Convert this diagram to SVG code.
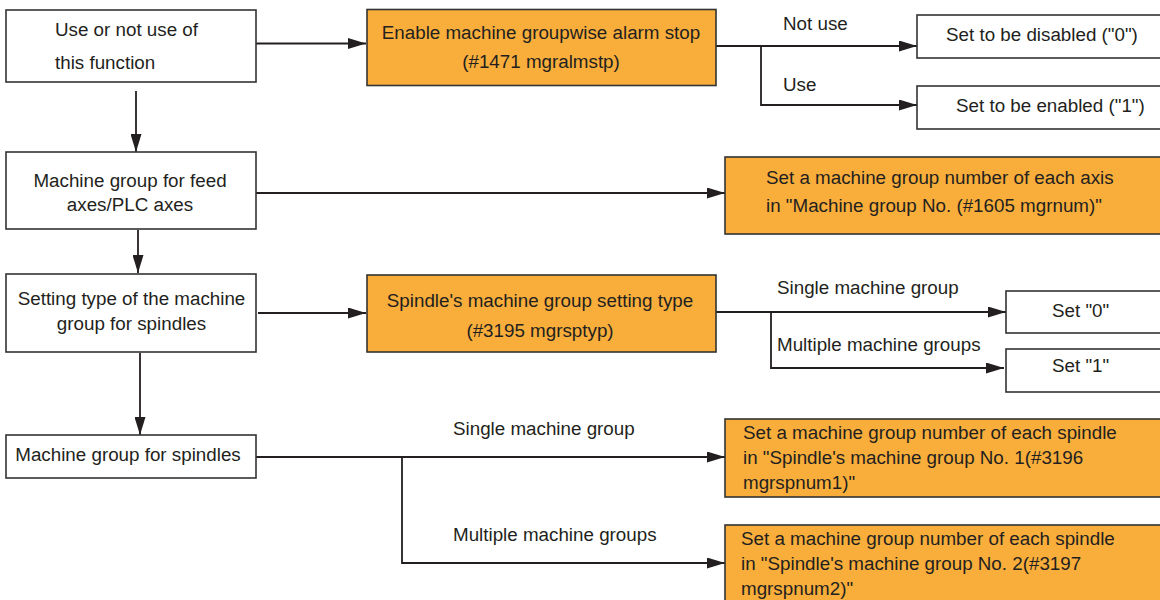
<svg xmlns="http://www.w3.org/2000/svg" width="1160" height="600" viewBox="0 0 1160 600">
<style>
.box{fill:#ffffff;stroke:#333333;stroke-width:1.6}
.obox{fill:#F9AE3B;stroke:#333333;stroke-width:1.6}
.t{font-family:"Liberation Sans",Arial,sans-serif;font-size:18.8px;fill:#231f20}
.c{text-anchor:middle}
.ln{fill:none;stroke:#231f20;stroke-width:1.8}
</style>
<defs>
<marker id="ah" markerUnits="userSpaceOnUse" markerWidth="18" markerHeight="11" refX="18" refY="5.5" orient="auto">
<path d="M0,0 L18,5.5 L0,11 z" fill="#231f20"/>
</marker>
</defs>
<rect width="1160" height="600" fill="#ffffff"/>

<g id="connectors">
<path class="ln" d="M256,43.5 H366" marker-end="url(#ah)"/>
<path class="ln" d="M716,46 H917" marker-end="url(#ah)"/>
<path class="ln" d="M761,46 V105 H917" marker-end="url(#ah)"/>
<path class="ln" d="M136,91 V152" marker-end="url(#ah)"/>
<path class="ln" d="M256,193 H725" marker-end="url(#ah)"/>
<path class="ln" d="M138,230 V273" marker-end="url(#ah)"/>
<path class="ln" d="M258,313 H366" marker-end="url(#ah)"/>
<path class="ln" d="M716,312 H1006" marker-end="url(#ah)"/>
<path class="ln" d="M771,312 V368 H1004" marker-end="url(#ah)"/>
<path class="ln" d="M140,353 V435" marker-end="url(#ah)"/>
<path class="ln" d="M256,457 H725" marker-end="url(#ah)"/>
<path class="ln" d="M402,457 V563 H725" marker-end="url(#ah)"/>
<text class="t" x="783" y="30">Not use</text>
<text class="t" x="783" y="91">Use</text>
<text class="t" x="777" y="294">Single machine group</text>
<text class="t" x="777" y="351">Multiple machine groups</text>
<text class="t" x="453" y="435">Single machine group</text>
<text class="t" x="453" y="541">Multiple machine groups</text>
</g>

<g id="n-use">
<rect class="box" x="6" y="10" width="250" height="72"/>
<text class="t" x="55" y="36">Use or not use of</text>
<text class="t" x="55" y="69">this function</text>
</g>

<g id="n-alarmstop">
<rect class="obox" x="367" y="9.5" width="349" height="76"/>
<text class="t c" x="541" y="39">Enable machine groupwise alarm stop</text>
<text class="t c" x="541" y="68">(#1471 mgralmstp)</text>
</g>

<g id="n-disabled">
<rect class="box" x="917" y="15" width="250" height="43"/>
<text class="t" x="946" y="41">Set to be disabled ("0")</text>
</g>

<g id="n-enabled">
<rect class="box" x="917" y="86" width="250" height="43"/>
<text class="t" x="956" y="112">Set to be enabled ("1")</text>
</g>

<g id="n-feed">
<rect class="box" x="6" y="152" width="250" height="77"/>
<text class="t c" x="130" y="187">Machine group for feed</text>
<text class="t c" x="130" y="211">axes/PLC axes</text>
</g>

<g id="n-mgrnum">
<rect class="obox" x="725" y="157" width="445" height="77"/>
<text class="t" x="766" y="184">Set a machine group number of each axis</text>
<text class="t" x="766" y="212">in "Machine group No. (#1605 mgrnum)"</text>
</g>

<g id="n-settype">
<rect class="box" x="6" y="274" width="250" height="78"/>
<text class="t c" x="131.5" y="305">Setting type of the machine</text>
<text class="t c" x="131.5" y="330">group for spindles</text>
</g>

<g id="n-mgrsptyp">
<rect class="obox" x="367" y="275" width="349" height="77"/>
<text class="t c" x="540" y="307">Spindle's machine group setting type</text>
<text class="t c" x="540" y="337">(#3195 mgrsptyp)</text>
</g>

<g id="n-set0">
<rect class="box" x="1006" y="291" width="160" height="42"/>
<text class="t" x="1052" y="317">Set "0"</text>
</g>

<g id="n-set1">
<rect class="box" x="1006" y="349" width="160" height="43"/>
<text class="t" x="1052" y="372">Set "1"</text>
</g>

<g id="n-spindles">
<rect class="box" x="6" y="435" width="250" height="43"/>
<text class="t c" x="128" y="461">Machine group for spindles</text>
</g>

<g id="n-mgrspnum1">
<rect class="obox" x="725" y="419" width="445" height="78"/>
<text class="t" x="743" y="439">Set a machine group number of each spindle</text>
<text class="t" x="743" y="464">in "Spindle's machine group No. 1(#3196</text>
<text class="t" x="743" y="489">mgrspnum1)"</text>
</g>

<g id="n-mgrspnum2">
<rect class="obox" x="725" y="525" width="445" height="90"/>
<text class="t" x="741" y="545">Set a machine group number of each spindle</text>
<text class="t" x="741" y="570">in "Spindle's machine group No. 2(#3197</text>
<text class="t" x="741" y="595">mgrspnum2)"</text>
</g>
</svg>
